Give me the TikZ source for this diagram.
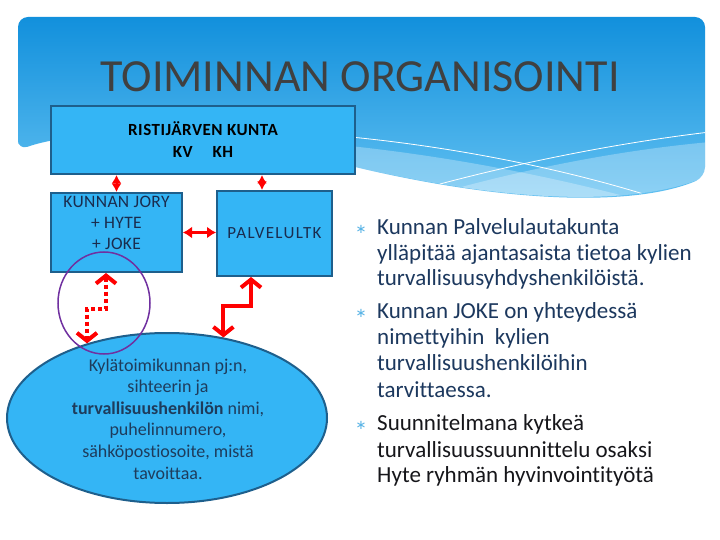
\documentclass[tikz,border=0pt]{standalone}
\usepackage{fontspec}
\setmainfont[Ligatures={NoCommon,NoContextual},Contextuals=NoAlternate]{Carlito}
\newfontfamily\symf{DejaVu Sans}
\usetikzlibrary{arrows.meta,shapes.geometric,calc}
\definecolor{hdrtop}{RGB}{18,144,220}
\definecolor{hdrbot}{RGB}{100,194,242}
\definecolor{boxfill}{RGB}{52,181,245}
\definecolor{boxline}{RGB}{30,95,140}
\definecolor{navy}{RGB}{26,44,78}
\definecolor{slate}{RGB}{30,60,92}
\definecolor{btext}{RGB}{28,56,94}
\definecolor{bdark}{RGB}{22,22,26}
\definecolor{bulletc}{RGB}{90,180,230}
\definecolor{titlec}{RGB}{64,64,64}
\definecolor{hlc}{RGB}{112,48,160}
\definecolor{arr}{RGB}{255,0,0}
\begin{document}
\begin{tikzpicture}[x=1pt,y=-1pt,
  box/.style={draw=boxline, line width=2pt, fill=boxfill, inner sep=0pt},
  dia/.style={draw=arr, line width=2pt, {Latex[length=8.5pt,width=10pt]}-{Latex[length=8.5pt,width=10pt]}},
  harrow/.style={draw=arr, line width=2.5pt, {Latex[length=9pt,width=12pt]}-{Latex[length=9pt,width=12pt]}},
  bigarrow/.style={draw=arr, line width=4pt, {Straight Barb[length=8pt,width=20pt]}-{Straight Barb[length=8pt,width=20pt]}},
  dotarrow/.style={bigarrow, dash pattern=on 4pt off 3pt},
  btxt/.style={anchor=base west, inner sep=0pt, font=\fontsize{23}{26}\selectfont, text=btext},
  bmark/.style={inner sep=0pt, font=\symf\fontsize{13}{13}\selectfont, text=bulletc},
  wline/.style={draw=white, line width=0.8pt}
]
\useasboundingbox (0,0) rectangle (720,540);
\fill[white] (0,0) rectangle (720,540);
% header
\shade[top color=hdrtop, bottom color=hdrbot, rounded corners=10pt]
  (18,150) -- (18,17) -- (705,17) -- (705,177)
  .. controls (640,205) and (520,205) .. (355,167)
  .. controls (250,140) and (100,122) .. (18,150) -- cycle;
\begin{scope}
  \clip (18,150) -- (18,17) -- (705,17) -- (705,177)
  .. controls (640,205) and (520,205) .. (355,167)
  .. controls (250,140) and (100,122) .. (18,150) -- cycle;
  \fill[white, opacity=0.28] (340,145) .. controls (450,156) and (560,178) .. (650,203) -- (650,240) -- (340,240) -- cycle;
  \fill[white, opacity=0.28] (443,192) .. controls (500,176) and (600,152) .. (710,142) -- (710,240) -- (443,240) -- cycle;
  \draw[wline] (340,136) .. controls (450,146) and (560,168) .. (650,196);
  \draw[wline] (440,184) .. controls (500,168) and (600,145) .. (710,132);
\end{scope}
% title
\node[anchor=base, inner sep=0pt, text=titlec, font=\fontsize{46}{46}\selectfont] (title) at (360,92) {TOIMINNAN ORGANISOINTI};
% boxes
\node[box, minimum width=304pt, minimum height=68pt, align=center, text=black,
  font=\bfseries\fontsize{17}{22}\selectfont\addfontfeatures{LetterSpace=3}] (kunta) at (203,140)
  {RISTIJÄRVEN KUNTA\\KV\hspace{20pt}KH};
\node[box, minimum width=131pt, minimum height=79pt] (jory) at (116.5,232.5) {};
\node[align=center, inner sep=0pt, text=navy,
  font=\fontsize{17.5}{21}\selectfont\addfontfeatures{LetterSpace=2}] (joryt) at (116.5,223)
  {KUNNAN JORY\\+ HYTE\\+ JOKE};
\node[box, minimum width=115pt, minimum height=85pt, text=navy,
  font=\fontsize{17}{17}\selectfont\addfontfeatures{LetterSpace=8}] (palv) at (274.5,233.5) {PALVELULTK};
% ellipse
\node[ellipse, draw=boxline, line width=2pt, fill=boxfill, minimum width=320pt, minimum height=170pt, inner sep=0pt] (ell) at (167,418) {};
\node[align=center, inner sep=0pt, text=slate, font=\fontsize{18}{21.6}\selectfont] (ellt) at (168,419)
  {Kylätoimikunnan pj:n,\\sihteerin ja\\\textbf{turvallisuushenkilön} nimi,\\puhelinnumero,\\sähköpostiosoite, mistä\\tavoittaa.};
% connectors
\draw[dia] (jory.north |- kunta.south) -- (jory.north);
\coordinate (p1) at ($(palv.north west)+(46,0)$);
\draw[dia] (p1 |- kunta.south) -- (p1);
\draw[harrow] (jory.east) -- (jory.east -| palv.west);
\coordinate (d1) at ($(jory.south west)+(56,0)$);
\coordinate (bend1) at ($(d1)+(0,36)$);
\draw[dotarrow] (d1) -- (bend1) -- (bend1 -| ell.137) -- (ell.137);
\coordinate (s1) at ($(palv.south west)+(35,0)$);
\coordinate (bend2) at ($(s1)+(0,29)$);
\draw[bigarrow] (s1) -- (bend2) -- (bend2 -| ell.55) -- (ell.55);
% highlight circle
\node[ellipse, draw=hlc, line width=1.5pt, minimum width=92pt, minimum height=102pt, inner sep=0pt] (hl) at (104,303) {};
% bullets
\node[bmark] (m1) at (361,229) {∗};
\node[bmark] (m2) at (361,313) {∗};
\node[bmark] (m3) at (361,425) {∗};
\node[btxt] (b1a) at (377,234) {Kunnan Palvelulautakunta};
\node[btxt] (b1b) at (377,260) {ylläpitää ajantasaista tietoa kylien};
\node[btxt] (b1c) at (377,285) {turvallisuusyhdyshenkilöistä.};
\node[btxt] (b2a) at (377,318) {Kunnan JOKE on yhteydessä};
\node[btxt] (b2b) at (377,344) {nimettyihin\ \ kylien};
\node[btxt] (b2c) at (377,370) {turvallisuushenkilöihin};
\node[btxt] (b2d) at (377,397) {tarvittaessa.};
\node[btxt, text=bdark] (b3a) at (377,430) {Suunnitelmana kytkeä};
\node[btxt, text=bdark] (b3b) at (377,457) {turvallisuussuunnittelu osaksi};
\node[btxt, text=bdark] (b3c) at (377,482) {Hyte ryhmän hyvinvointityötä};
\end{tikzpicture}
\end{document}
